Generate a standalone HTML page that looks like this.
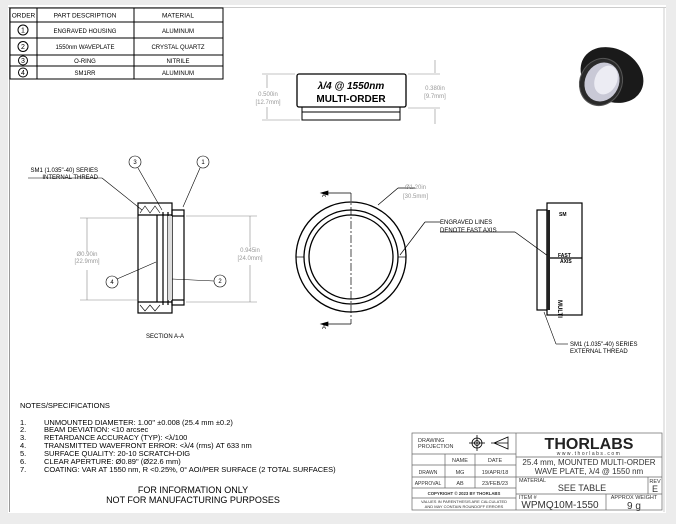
<!DOCTYPE html>
<html><head><meta charset="utf-8"><style>
html,body{margin:0;padding:0;background:#e9e9e9;}
svg{display:block;font-family:"Liberation Sans",sans-serif;}
</style></head><body>
<svg width="676" height="524" viewBox="0 0 676 524" xmlns="http://www.w3.org/2000/svg">
<rect x="0" y="0" width="676" height="524" fill="#ececec"/>
<rect x="8" y="5" width="658" height="508" fill="#fff"/>
<line x1="8" y1="7.5" x2="666" y2="7.5" stroke="#ccc" stroke-width="1"/>
<line x1="9.5" y1="7" x2="9.5" y2="512" stroke="#999" stroke-width="1"/>
<line x1="664" y1="7" x2="664" y2="512" stroke="#ccc" stroke-width="1"/>

<!-- parts table -->
<g stroke="#000" stroke-width="1" fill="none">
<rect x="10" y="8" width="213" height="71"/>
<line x1="10" y1="22" x2="223" y2="22"/><line x1="10" y1="38" x2="223" y2="38"/>
<line x1="10" y1="55" x2="223" y2="55"/><line x1="10" y1="66" x2="223" y2="66"/>
<line x1="37" y1="8" x2="37" y2="79"/><line x1="134" y1="8" x2="134" y2="79"/>
<circle cx="23" cy="30" r="5"/><circle cx="23" cy="46.5" r="5"/><circle cx="23" cy="60.5" r="4.5"/><circle cx="23" cy="72.5" r="4.5"/>
</g>
<g font-size="6.5" text-anchor="middle" fill="#000">
<text x="23.5" y="17.5">ORDER</text><text x="85" y="17.5">PART DESCRIPTION</text><text x="178" y="17.5">MATERIAL</text>
<text x="23" y="32.5" font-size="7">1</text><text x="23" y="49" font-size="7">2</text><text x="23" y="63" font-size="7">3</text><text x="23" y="75" font-size="7">4</text>
<text x="85" y="33" font-size="6">ENGRAVED HOUSING</text><text x="178" y="33" font-size="6">ALUMINUM</text>
<text x="85" y="49" font-size="6">1550nm WAVEPLATE</text><text x="178" y="49" font-size="6">CRYSTAL QUARTZ</text>
<text x="85" y="63" font-size="6">O-RING</text><text x="178" y="63" font-size="6">NITRILE</text>
<text x="85" y="75" font-size="6">SM1RR</text><text x="178" y="75" font-size="6">ALUMINUM</text>
</g>

<!-- top view -->
<g stroke="#000" fill="none">
<rect x="297" y="74" width="109" height="33" rx="2" stroke-width="1.3"/>
<rect x="302" y="107" width="98" height="13" stroke-width="1"/>
<line x1="302" y1="112" x2="400" y2="112"/>
</g>
<text x="351" y="89" font-size="10" font-weight="bold" font-style="italic" text-anchor="middle">λ/4 @ 1550nm</text>
<text x="351" y="102" font-size="10" font-weight="bold" text-anchor="middle">MULTI-ORDER</text>
<g stroke="#888" stroke-width="0.6" fill="#888">
<line x1="262" y1="74" x2="295" y2="74"/><line x1="262" y1="120" x2="300" y2="120"/>
<line x1="267" y1="75" x2="267" y2="88"/><line x1="267" y1="107" x2="267" y2="119"/>
<line x1="408" y1="74" x2="440" y2="74"/><line x1="408" y1="108" x2="440" y2="108"/>
<line x1="435" y1="60" x2="435" y2="73"/><line x1="435" y1="109" x2="435" y2="124"/>
</g>
<g font-size="6" fill="#999" text-anchor="middle">
<text x="268" y="96">0.500in</text><text x="268" y="104">[12.7mm]</text>
<text x="435" y="90">0.380in</text><text x="435" y="98">[9.7mm]</text>
</g>

<!-- product image -->
<g>
<ellipse cx="612" cy="75" rx="33" ry="26" fill="#1a1a1a" transform="rotate(30 612 75)"/>
<ellipse cx="601" cy="82" rx="21" ry="24" fill="#2a2a2a" stroke="#555" stroke-width="1" transform="rotate(25 601 82)"/>
<ellipse cx="602" cy="82" rx="17" ry="20" fill="#c9c9d6" transform="rotate(25 602 82)"/>
<ellipse cx="606" cy="80" rx="11" ry="15" fill="#ececf3" transform="rotate(25 606 80)"/>
</g>

<!-- section view -->
<g stroke="#000" fill="none" stroke-width="1.2">
<rect x="138" y="203" width="34" height="110"/>
<rect x="172" y="210" width="12" height="95"/>
<line x1="138" y1="215" x2="172" y2="215"/><line x1="138" y1="302" x2="172" y2="302"/>
<line x1="157" y1="215" x2="157" y2="302"/><line x1="163" y1="212" x2="163" y2="305"/>
<line x1="168" y1="212" x2="168" y2="305"/><line x1="172" y1="216" x2="184" y2="216"/><line x1="172" y1="300" x2="184" y2="300"/>
</g>
<rect x="168" y="216" width="4" height="84" fill="#ddd"/>
<g stroke="#000" stroke-width="0.6" fill="none">
<path d="M140 213 L145 206 L150 213 L155 206 L160 213 M140 305 L145 311 L150 305 L155 311 L160 305"/>
<line x1="28" y1="178" x2="102" y2="178"/><line x1="102" y1="178" x2="142" y2="210"/>
<circle cx="135" cy="162" r="6"/><line x1="138" y1="168" x2="162" y2="210"/>
<circle cx="203" cy="162" r="6"/><line x1="200" y1="168" x2="183" y2="207"/>
<circle cx="112" cy="282" r="6"/><line x1="117" y1="279" x2="156" y2="262"/>
<circle cx="220" cy="281" r="6"/><line x1="214" y1="281" x2="172" y2="279"/>
</g>
<g stroke="#888" stroke-width="0.6">
<line x1="80" y1="218" x2="137" y2="218"/><line x1="80" y1="300" x2="137" y2="300"/>
<line x1="87" y1="218" x2="87" y2="252"/><line x1="87" y1="270" x2="87" y2="300"/>
<line x1="186" y1="216" x2="257" y2="216"/><line x1="186" y1="302" x2="257" y2="302"/>
<line x1="250" y1="216" x2="250" y2="247"/><line x1="250" y1="265" x2="250" y2="302"/>
</g>
<g font-size="6" fill="#000">
<text x="98" y="172" text-anchor="end">SM1 (1.035"-40) SERIES</text>
<text x="98" y="179" text-anchor="end">INTERNAL THREAD</text>
<text x="135" y="164" text-anchor="middle">3</text><text x="203" y="164" text-anchor="middle">1</text>
<text x="112" y="284" text-anchor="middle">4</text><text x="220" y="283" text-anchor="middle">2</text>
<text x="165" y="338" text-anchor="middle">SECTION A-A</text>
</g>
<g font-size="6" fill="#999" text-anchor="middle">
<text x="87" y="256">Ø0.90in</text><text x="87" y="263">[22.9mm]</text>
<text x="250" y="252">0.945in</text><text x="250" y="260">[24.0mm]</text>
</g>

<!-- front view -->
<g stroke="#000" fill="none" stroke-width="1.3">
<circle cx="351" cy="257" r="55"/><circle cx="351" cy="257" r="47"/><circle cx="351" cy="257" r="42"/>
</g>
<g stroke="#000" stroke-width="0.7" fill="none">
<line x1="351" y1="193" x2="351" y2="324" stroke-dasharray="8 2 2 2"/>
<line x1="296" y1="257" x2="304" y2="257"/><line x1="398" y1="257" x2="406" y2="257"/>
<path d="M322 193 L351 193 M322 324 L351 324"/>
<path d="M321 193 L328 191 L328 195 Z M321 324 L328 322 L328 326 Z" fill="#000"/>
<line x1="378" y1="205" x2="398" y2="188"/><line x1="398" y1="188" x2="415" y2="188"/>
<line x1="400" y1="255" x2="425" y2="222"/><line x1="425" y1="222" x2="440" y2="222"/>
<line x1="440" y1="232" x2="515" y2="232"/><line x1="515" y1="232" x2="548" y2="256"/>
</g>
<g font-size="6" fill="#000">
<text x="322" y="197">A</text><text x="322" y="329">A</text>
<text x="440" y="224">ENGRAVED LINES</text><text x="440" y="232">DENOTE FAST AXIS</text>
</g>
<g font-size="6" fill="#999"><text x="405" y="189">Ø1.20in</text><text x="403" y="198">[30.5mm]</text></g>

<!-- side view -->
<g stroke="#000" fill="none" stroke-width="1.2">
<rect x="537" y="210" width="10" height="100"/>
<rect x="547" y="203" width="35" height="112"/>
<line x1="547" y1="258" x2="582" y2="258"/>
</g>
<rect x="547" y="210" width="3" height="100" fill="#222"/>
<g font-size="5" font-weight="bold" fill="#000">
<text x="559" y="216">SM</text>
<text x="558" y="257">FAST</text><text x="560" y="263">AXIS</text>
<text transform="translate(558 300) rotate(90)" font-size="6">MULTI</text>
</g>
<g stroke="#000" stroke-width="0.6"><line x1="544" y1="312" x2="556" y2="344"/><line x1="556" y1="344" x2="568" y2="344"/></g>
<g font-size="6" fill="#000"><text x="570" y="346">SM1 (1.035"-40) SERIES</text><text x="570" y="353">EXTERNAL THREAD</text></g>

<!-- notes -->
<g font-size="7.5" fill="#000">
<text x="20" y="408">NOTES/SPECIFICATIONS</text>
<text x="20" y="425">1.</text><text x="44" y="425">UNMOUNTED DIAMETER: 1.00" ±0.008 (25.4 mm ±0.2)</text>
<text x="20" y="432">2.</text><text x="44" y="432">BEAM DEVIATION: &lt;10 arcsec</text>
<text x="20" y="440">3.</text><text x="44" y="440">RETARDANCE ACCURACY (TYP): &lt;λ/100</text>
<text x="20" y="448">4.</text><text x="44" y="448">TRANSMITTED WAVEFRONT ERROR: &lt;λ/4 (rms) AT 633 nm</text>
<text x="20" y="456">5.</text><text x="44" y="456">SURFACE QUALITY: 20-10 SCRATCH-DIG</text>
<text x="20" y="464">6.</text><text x="44" y="464">CLEAR APERTURE: Ø0.89" (Ø22.6 mm)</text>
<text x="20" y="472">7.</text><text x="44" y="472">COATING: VAR AT 1550 nm, R &lt;0.25%, 0° AOI/PER SURFACE (2 TOTAL SURFACES)</text>
<text x="193" y="493" font-size="9" text-anchor="middle">FOR INFORMATION ONLY</text>
<text x="193" y="503" font-size="9" text-anchor="middle">NOT FOR MANUFACTURING PURPOSES</text>
</g>

<!-- title block -->
<g stroke="#666" stroke-width="0.7" fill="none">
<rect x="412" y="433" width="250" height="77"/>
<line x1="516" y1="433" x2="516" y2="510"/>
<line x1="412" y1="454" x2="516" y2="454"/><line x1="412" y1="465" x2="516" y2="465"/>
<line x1="412" y1="477" x2="516" y2="477"/><line x1="412" y1="488" x2="516" y2="488"/><line x1="412" y1="498" x2="516" y2="498"/>
<line x1="445" y1="454" x2="445" y2="488"/><line x1="475" y1="454" x2="475" y2="488"/>
<line x1="516" y1="457" x2="662" y2="457"/><line x1="516" y1="477" x2="662" y2="477"/><line x1="516" y1="494" x2="662" y2="494"/>
<line x1="648" y1="477" x2="648" y2="494"/><line x1="606" y1="494" x2="606" y2="510"/>
</g>
<g stroke="#000" stroke-width="0.8" fill="none">
<circle cx="477" cy="443" r="5"/><circle cx="477" cy="443" r="2.5"/><line x1="469" y1="443" x2="485" y2="443"/><line x1="477" y1="435" x2="477" y2="451"/>
<path d="M494 443 L508 437 L508 449 Z M491 443 L508 443"/>
</g>
<g fill="#333" text-anchor="middle">
<text x="418" y="442" font-size="5.5" text-anchor="start">DRAWING</text><text x="418" y="448" font-size="5.5" text-anchor="start">PROJECTION</text>
<text x="460" y="462" font-size="5.5">NAME</text><text x="495" y="462" font-size="5.5">DATE</text>
<text x="428" y="474" font-size="5">DRAWN</text><text x="460" y="474" font-size="5.5">MG</text><text x="495" y="474" font-size="5.5">19/APR/18</text>
<text x="428" y="485" font-size="5">APPROVAL</text><text x="460" y="485" font-size="5.5">AB</text><text x="495" y="485" font-size="5.5">23/FEB/23</text>
<text x="464" y="495" font-size="4.3" font-weight="bold">COPYRIGHT © 2023 BY THORLABS</text>
<text x="464" y="503" font-size="4">VALUES IN PARENTHESIS ARE CALCULATED</text>
<text x="464" y="508" font-size="4">AND MAY CONTAIN ROUNDOFF ERRORS</text>
<text x="589" y="449" font-size="16" font-weight="bold" fill="#222">THORLABS</text>
<text x="589" y="455" font-size="5" letter-spacing="1.5">www.thorlabs.com</text>
<text x="589" y="465" font-size="8">25.4 mm, MOUNTED MULTI-ORDER</text>
<text x="589" y="474" font-size="8">WAVE PLATE, λ/4 @ 1550 nm</text>
<text x="519" y="482" font-size="5.5" text-anchor="start">MATERIAL</text>
<text x="582" y="491" font-size="9">SEE TABLE</text>
<text x="655" y="483" font-size="5.5">REV</text><text x="655" y="492" font-size="9">E</text>
<text x="519" y="499" font-size="5.5" text-anchor="start">ITEM #</text>
<text x="560" y="508" font-size="10">WPMQ10M-1550</text>
<text x="634" y="499" font-size="5.5">APPROX WEIGHT</text>
<text x="634" y="509" font-size="10">9 g</text>
</g>
</svg>
</body></html>
